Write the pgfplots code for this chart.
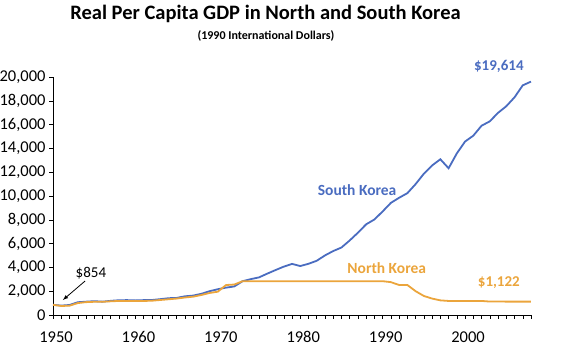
\documentclass[border=0pt]{standalone}
\usepackage{pgfplots}
\pgfplotsset{compat=1.18}
\usepackage{fontspec}
\setmainfont{Carlito}
\definecolor{skblue}{HTML}{4A6CC0}
\definecolor{nkorange}{HTML}{EBA53C}
\begin{document}
\begin{tikzpicture}[x=1pt,y=1pt]
\useasboundingbox (0,0) rectangle (571,361);
\node[font=\fontsize{20.5}{24}\selectfont\bfseries] at (265.5,347) {Real Per Capita GDP in North and South Korea};
\node[font=\fontsize{12}{14}\selectfont\bfseries] at (266,325) {(1990 International Dollars)};
\begin{axis}[
  at={(53pt,46pt)}, anchor=origin,
  scale only axis, width=478pt, height=238pt,
  xmin=1950, xmax=2008, ymin=0, ymax=20000,
  axis lines=left, axis line style={-, black, thin},
  xtick={1950,1960,...,2000},
  minor xtick={1950,...,2008},
  ytick={0,2000,...,20000},
  tick align=outside,
  major tick length=4pt, minor tick length=4pt,
  tick style={black, thin},
  xticklabel style={font=\fontsize{16.5}{18}\selectfont, /pgf/number format/1000 sep={}, yshift=-9pt, xshift=3pt},
  yticklabel style={font=\fontsize{16.5}{18}\selectfont},
  /pgf/number format/assume math mode=true,
  scaled y ticks=false,
  y tick label style={/pgf/number format/1000 sep={,}},
  clip=false,
]
\addplot[skblue, line width=1.8pt] coordinates {
(1950,854)(1951,790)(1952,840)(1953,1072)(1954,1120)(1955,1160)(1956,1120)(1957,1190)(1958,1240)(1959,1250)
(1960,1226)(1961,1250)(1962,1260)(1963,1330)(1964,1410)(1965,1436)(1966,1570)(1967,1630)(1968,1780)(1969,2000)
(1970,2167)(1971,2300)(1972,2400)(1973,2840)(1974,3015)(1975,3162)(1976,3476)(1977,3775)(1978,4064)(1979,4294)
(1980,4114)(1981,4302)(1982,4557)(1983,5007)(1984,5375)(1985,5670)(1986,6263)(1987,6916)(1988,7621)(1989,8027)
(1990,8704)(1991,9425)(1992,9852)(1993,10238)(1994,11000)(1995,11873)(1996,12565)(1997,13088)(1998,12331)(1999,13579)
(2000,14577)(2001,15069)(2002,15905)(2003,16275)(2004,16988)(2005,17543)(2006,18292)(2007,19300)(2008,19614)
};
\addplot[nkorange, line width=1.8pt] coordinates {
(1950,854)(1951,760)(1952,780)(1953,1000)(1954,1080)(1955,1110)(1956,1110)(1957,1150)(1958,1180)(1959,1180)
(1960,1180)(1961,1180)(1962,1200)(1963,1260)(1964,1320)(1965,1380)(1966,1470)(1967,1540)(1968,1680)(1969,1850)
(1970,1960)(1971,2520)(1972,2560)(1973,2841)(1974,2841)(1975,2841)(1976,2841)(1977,2841)(1978,2841)(1979,2841)
(1980,2841)(1981,2841)(1982,2841)(1983,2841)(1984,2841)(1985,2841)(1986,2841)(1987,2841)(1988,2841)(1989,2841)
(1990,2841)(1991,2760)(1992,2520)(1993,2520)(1994,2000)(1995,1600)(1996,1380)(1997,1230)(1998,1180)(1999,1180)
(2000,1180)(2001,1180)(2002,1180)(2003,1130)(2004,1130)(2005,1125)(2006,1122)(2007,1122)(2008,1122)
};
\node[font=\fontsize{15.5}{18}\selectfont\bfseries, text=skblue] at (axis cs:1986.9,10500) {South Korea};
\node[font=\fontsize{15.5}{18}\selectfont\bfseries, text=nkorange] at (axis cs:1990.5,3950) {North Korea};
\node[font=\fontsize{15}{18}\selectfont\bfseries, text=nkorange] at (axis cs:2004.1,2690) {\$1,122};
\node[font=\fontsize{15}{18}\selectfont\bfseries, text=skblue] at (axis cs:2004.1,20924) {\$19,614};
\node[font=\fontsize{15}{18}\selectfont] at (axis cs:1954.6,3530) {\$854};
\draw[-latex, black, thick] (axis cs:1953.9,2860) -- (axis cs:1951.2,1260);
\end{axis}
\end{tikzpicture}
\end{document}
